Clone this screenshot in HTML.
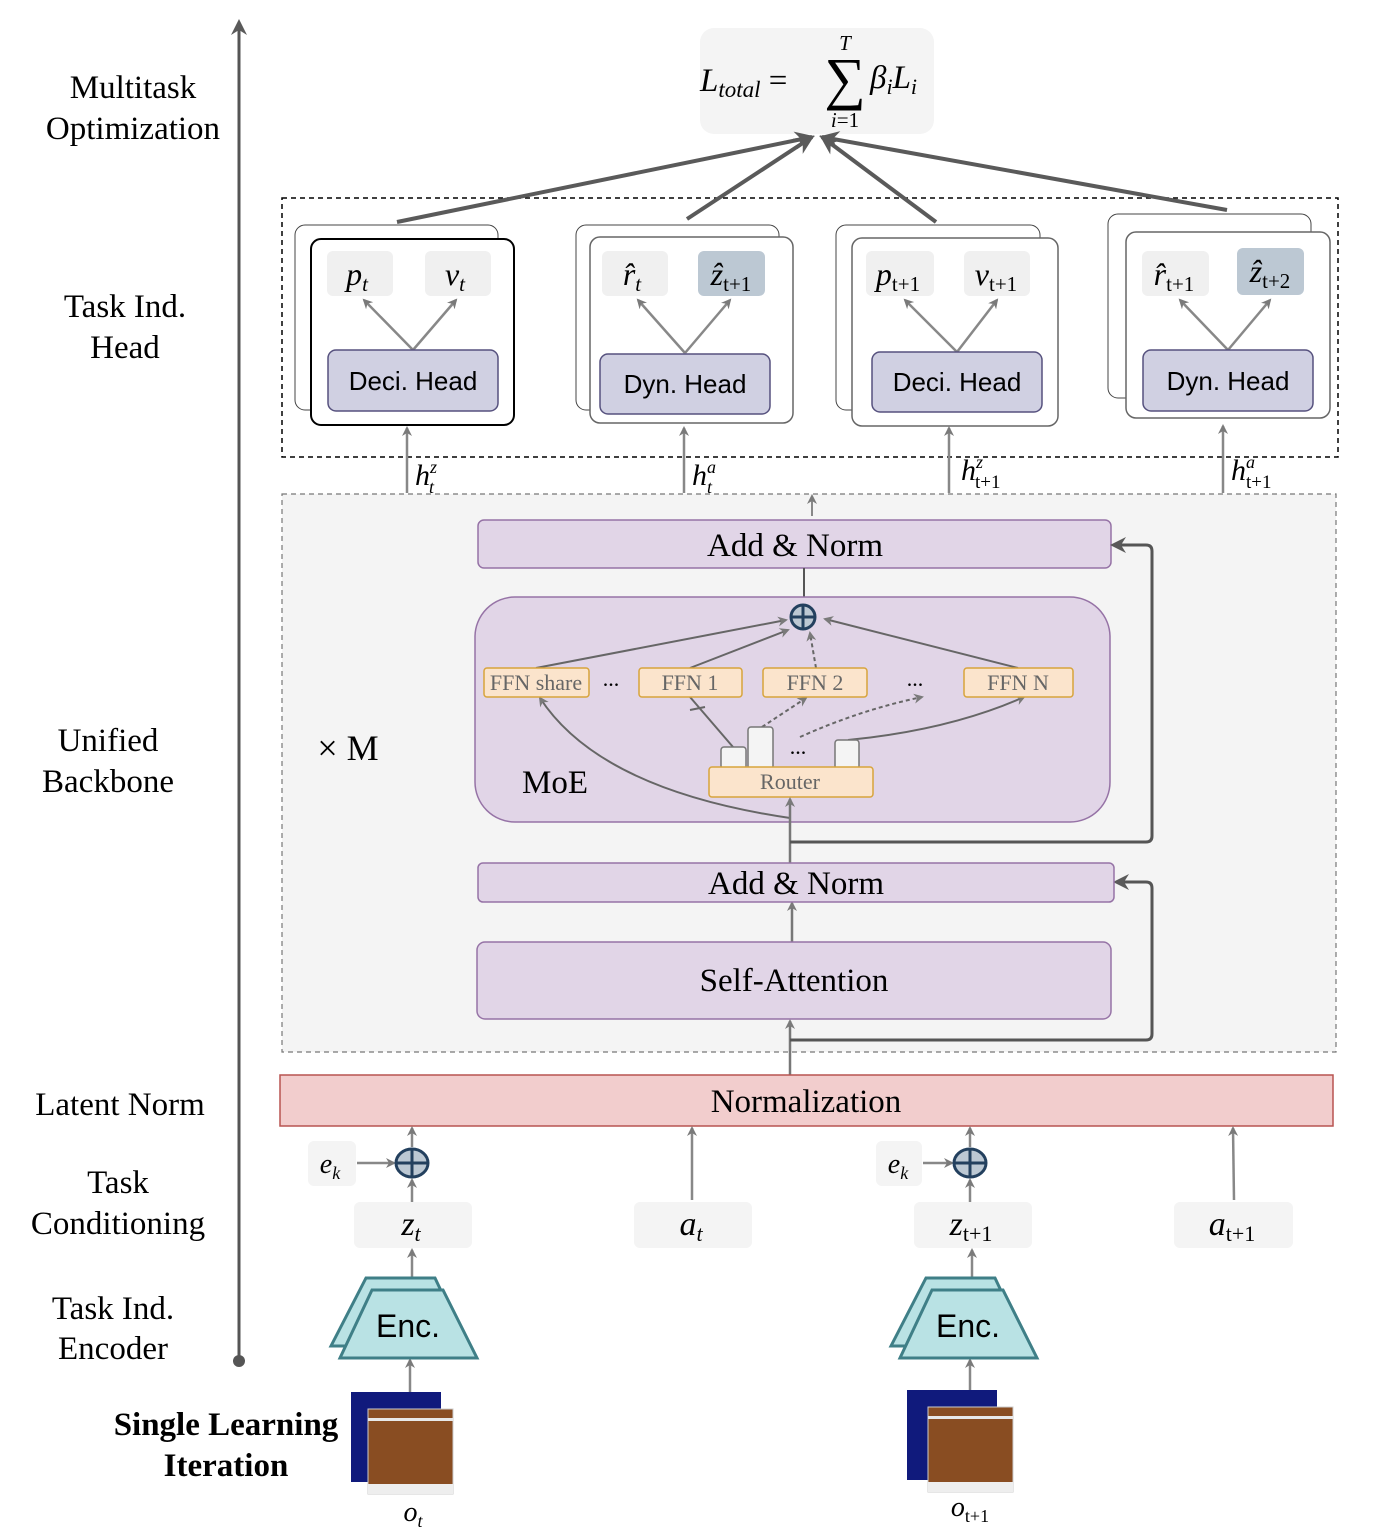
<!DOCTYPE html>
<html><head><meta charset="utf-8"><style>
html,body{margin:0;padding:0;background:#fff}
svg{display:block}
.s{font-family:"Liberation Serif",serif}
.a{font-family:"Liberation Sans",sans-serif}
.m{font-family:"Liberation Serif",serif;font-style:italic}
</style></head><body>
<svg width="1388" height="1536" viewBox="0 0 1388 1536" xmlns="http://www.w3.org/2000/svg">
<defs>
<marker id="ar" markerWidth="10" markerHeight="10" refX="8" refY="5" orient="auto" markerUnits="userSpaceOnUse"><path d="M0,0 L10,5 L0,10 L3,5 z" fill="#7a7a7a"/></marker>
<marker id="ar2" markerWidth="16" markerHeight="16" refX="13" refY="8" orient="auto" markerUnits="userSpaceOnUse"><path d="M0,0 L16,8 L0,16 L5,8 z" fill="#5a5a5a"/></marker>
<marker id="ar3" markerWidth="20" markerHeight="20" refX="17" refY="10" orient="auto" markerUnits="userSpaceOnUse"><path d="M0,1 L20,10 L0,19 L6,10 z" fill="#5a5a5a"/></marker>
</defs>

<line x1="239" y1="1360" x2="239" y2="22" stroke="#555" stroke-width="3" marker-end="url(#ar2)"/>
<circle cx="239" cy="1361" r="6" fill="#555"/>

<g class="s" font-size="33" text-anchor="middle" fill="#000">
<text x="133" y="98">Multitask</text><text x="133" y="139">Optimization</text>
<text x="125" y="317">Task Ind.</text><text x="125" y="358">Head</text>
<text x="108" y="751">Unified</text><text x="108" y="792">Backbone</text>
<text x="120" y="1115">Latent Norm</text>
<text x="118" y="1193">Task</text><text x="118" y="1234">Conditioning</text>
<text x="113" y="1319">Task Ind.</text><text x="113" y="1359">Encoder</text>
<text x="226" y="1435" font-weight="bold">Single Learning</text><text x="226" y="1476" font-weight="bold">Iteration</text>
</g>

<rect x="700" y="28" width="234" height="106" rx="14" fill="#f4f4f4"/>
<text class="m" x="700" y="91" font-size="33">L<tspan font-size="23" dy="6">total</tspan><tspan dy="-6" font-style="normal"> = </tspan></text>
<text class="s" x="845" y="98" font-size="58" text-anchor="middle">∑</text>
<text class="m" x="845" y="50" font-size="21" text-anchor="middle">T</text>
<text class="m" x="845" y="127" font-size="21" text-anchor="middle">i<tspan font-style="normal">=1</tspan></text>
<text class="m" x="870" y="88" font-size="33">β<tspan font-size="22" dy="6">i</tspan><tspan dy="-6">L</tspan><tspan font-size="22" dy="6">i</tspan></text>

<rect x="282" y="198" width="1056" height="259" fill="none" stroke="#000" stroke-width="1.5" stroke-dasharray="5,4"/>
<g stroke="#5a5a5a" stroke-width="4" fill="none">
<line x1="397" y1="222" x2="812" y2="137" marker-end="url(#ar3)"/>
<line x1="687" y1="219" x2="812" y2="137" marker-end="url(#ar3)"/>
<line x1="936" y1="222" x2="822" y2="137" marker-end="url(#ar3)"/>
<line x1="1227" y1="210" x2="822" y2="137" marker-end="url(#ar3)"/>
</g>

<rect x="295" y="225" width="203" height="185" rx="10" fill="#fff" stroke="#444" stroke-width="1"/>
<rect x="311" y="239" width="203" height="186" rx="10" fill="#fff" stroke="#000" stroke-width="2"/>
<rect x="327" y="251" width="66" height="45" rx="6" fill="#f0f0f0"/>
<rect x="425" y="251" width="66" height="45" rx="6" fill="#f0f0f0"/>
<text class="m" x="357" y="285" font-size="32" text-anchor="middle">p<tspan font-size="21" dy="6">t</tspan></text>
<text class="m" x="455" y="285" font-size="32" text-anchor="middle">v<tspan font-size="21" dy="6">t</tspan></text>
<g stroke="#888" stroke-width="2.5"><line x1="413" y1="350" x2="364" y2="300" marker-end="url(#ar)"/><line x1="413" y1="350" x2="456" y2="300" marker-end="url(#ar)"/></g>
<rect x="328" y="350" width="170" height="61" rx="8" fill="#d0d0e2" stroke="#56517e" stroke-width="1.5"/>
<text class="a" x="413" y="390" font-size="26" text-anchor="middle">Deci. Head</text>

<rect x="576" y="225" width="203" height="185" rx="10" fill="#fff" stroke="#444"/>
<rect x="590" y="237" width="203" height="186" rx="10" fill="#fff" stroke="#666" stroke-width="1.5"/>
<rect x="602" y="251" width="66" height="45" rx="6" fill="#f0f0f0"/>
<rect x="698" y="251" width="67" height="45" rx="6" fill="#bcc8d3"/>
<text class="m" x="632" y="285" font-size="32" text-anchor="middle">r̂<tspan font-size="21" dy="6">t</tspan></text>
<text class="m" x="731" y="285" font-size="32" text-anchor="middle">ẑ<tspan font-size="21" dy="6" font-style="normal">t+1</tspan></text>
<g stroke="#888" stroke-width="2.5"><line x1="685" y1="353" x2="638" y2="300" marker-end="url(#ar)"/><line x1="685" y1="353" x2="730" y2="300" marker-end="url(#ar)"/></g>
<rect x="600" y="354" width="170" height="60" rx="8" fill="#d0d0e2" stroke="#56517e" stroke-width="1.5"/>
<text class="a" x="685" y="393" font-size="26" text-anchor="middle">Dyn. Head</text>

<rect x="836" y="225" width="204" height="185" rx="10" fill="#fff" stroke="#444"/>
<rect x="852" y="238" width="206" height="188" rx="10" fill="#fff" stroke="#666" stroke-width="1.5"/>
<rect x="866" y="251" width="68" height="45" rx="6" fill="#f0f0f0"/>
<rect x="964" y="251" width="66" height="45" rx="6" fill="#f0f0f0"/>
<text class="m" x="898" y="285" font-size="32" text-anchor="middle">p<tspan font-size="21" dy="6" font-style="normal">t+1</tspan></text>
<text class="m" x="996" y="285" font-size="32" text-anchor="middle">v<tspan font-size="21" dy="6" font-style="normal">t+1</tspan></text>
<g stroke="#888" stroke-width="2.5"><line x1="957" y1="352" x2="905" y2="300" marker-end="url(#ar)"/><line x1="957" y1="352" x2="997" y2="300" marker-end="url(#ar)"/></g>
<rect x="872" y="352" width="170" height="60" rx="8" fill="#d0d0e2" stroke="#56517e" stroke-width="1.5"/>
<text class="a" x="957" y="391" font-size="26" text-anchor="middle">Deci. Head</text>

<rect x="1108" y="214" width="203" height="184" rx="10" fill="#fff" stroke="#444"/>
<rect x="1126" y="232" width="204" height="186" rx="10" fill="#fff" stroke="#666" stroke-width="1.5"/>
<rect x="1142" y="251" width="67" height="45" rx="6" fill="#f0f0f0"/>
<rect x="1237" y="248" width="67" height="47" rx="6" fill="#bcc8d3"/>
<text class="m" x="1174" y="285" font-size="32" text-anchor="middle">r̂<tspan font-size="21" dy="6" font-style="normal">t+1</tspan></text>
<text class="m" x="1270" y="282" font-size="32" text-anchor="middle">ẑ<tspan font-size="21" dy="6" font-style="normal">t+2</tspan></text>
<g stroke="#888" stroke-width="2.5"><line x1="1228" y1="350" x2="1180" y2="300" marker-end="url(#ar)"/><line x1="1228" y1="350" x2="1270" y2="300" marker-end="url(#ar)"/></g>
<rect x="1143" y="350" width="170" height="61" rx="8" fill="#d0d0e2" stroke="#56517e" stroke-width="1.5"/>
<text class="a" x="1228" y="390" font-size="26" text-anchor="middle">Dyn. Head</text>

<rect x="282" y="494" width="1054" height="558" fill="#f4f4f4" stroke="#777" stroke-width="1.2" stroke-dasharray="5,4"/>
<g stroke="#888" stroke-width="2.5">
<line x1="407" y1="493" x2="407" y2="428" marker-end="url(#ar)"/>
<line x1="684" y1="493" x2="684" y2="428" marker-end="url(#ar)"/>
<line x1="949" y1="493" x2="949" y2="428" marker-end="url(#ar)"/>
<line x1="1223" y1="493" x2="1223" y2="426" marker-end="url(#ar)"/>
<line x1="812" y1="516" x2="812" y2="496" marker-end="url(#ar)" stroke-width="2"/>
</g>
<g class="m" font-size="30">
<text x="415" y="485">h<tspan font-size="18" dy="-12">z</tspan><tspan font-size="18" dx="-8" dy="20">t</tspan></text>
<text x="692" y="485">h<tspan font-size="18" dy="-12">a</tspan><tspan font-size="18" dx="-9" dy="20">t</tspan></text>
<text x="961" y="480">h<tspan font-size="18" dy="-12">z</tspan><tspan font-size="19" dx="-8" dy="20" font-style="normal">t+1</tspan></text>
<text x="1231" y="480">h<tspan font-size="18" dy="-12">a</tspan><tspan font-size="19" dx="-9" dy="20" font-style="normal">t+1</tspan></text>
</g>

<rect x="478" y="520" width="633" height="48" rx="6" fill="#e1d5e7" stroke="#9673a6" stroke-width="1.5"/>
<text class="s" x="795" y="556" font-size="33" text-anchor="middle">Add &amp; Norm</text>
<line x1="804" y1="568" x2="804" y2="604" stroke="#555" stroke-width="2"/>

<rect x="475" y="597" width="635" height="225" rx="40" fill="#e1d5e7" stroke="#9673a6" stroke-width="1.5"/>
<text class="s" x="348" y="760" font-size="36" text-anchor="middle">× M</text>
<text class="s" x="555" y="793" font-size="33" text-anchor="middle">MoE</text>

<g stroke="#666" stroke-width="2" fill="none">
<line x1="536" y1="668" x2="786" y2="620" marker-end="url(#ar)"/>
<line x1="690" y1="668" x2="788" y2="630" marker-end="url(#ar)"/>
<line x1="816" y1="668" x2="810" y2="633" marker-end="url(#ar)" stroke-dasharray="4,3"/>
<line x1="1018" y1="668" x2="825" y2="619" marker-end="url(#ar)"/>
<line x1="733" y1="747" x2="690" y2="697"/>
<line x1="690" y1="710" x2="705" y2="707"/>
<line x1="762" y1="727" x2="806" y2="698" marker-end="url(#ar)" stroke-dasharray="4,3"/>
<path d="M800,737 Q860,710 922,697" marker-end="url(#ar)" stroke-dasharray="4,3"/>
<path d="M848,740 Q950,730 1024,697" marker-end="url(#ar)"/>
<path d="M790,818 Q600,790 540,698" marker-end="url(#ar)"/>
</g>
<circle cx="803" cy="617" r="12" fill="#bcc8d3" stroke="#23405e" stroke-width="3"/>
<line x1="791" y1="617" x2="815" y2="617" stroke="#23405e" stroke-width="3"/><line x1="803" y1="605" x2="803" y2="629" stroke="#23405e" stroke-width="3"/>

<g fill="#fbe4cc" stroke="#d8a43b" stroke-width="1.5">
<rect x="484" y="668" width="105" height="29" rx="3"/>
<rect x="639" y="668" width="103" height="29" rx="3"/>
<rect x="763" y="668" width="104" height="29" rx="3"/>
<rect x="964" y="668" width="109" height="29" rx="3"/>
</g>
<g class="s" font-size="22" fill="#666" text-anchor="middle">
<text x="536" y="690">FFN share</text><text x="690" y="690">FFN 1</text><text x="815" y="690">FFN 2</text><text x="1018" y="690">FFN N</text>
<text x="611" y="686" fill="#000">...</text><text x="915" y="686" fill="#000">...</text><text x="798" y="754" fill="#000">...</text>
</g>
<g fill="#f4f4f4" stroke="#777" stroke-width="1.5">
<rect x="721" y="747" width="25" height="22" rx="3"/>
<rect x="748" y="727" width="25" height="42" rx="3"/>
<rect x="835" y="740" width="24" height="29" rx="3"/>
</g>
<rect x="709" y="767" width="164" height="30" rx="3" fill="#fbe4cc" stroke="#d8a43b" stroke-width="1.5"/>
<text class="s" x="790" y="789" font-size="22" fill="#666" text-anchor="middle">Router</text>

<g stroke="#777" stroke-width="2.5" fill="none">
<line x1="790" y1="863" x2="790" y2="799" marker-end="url(#ar)"/>
<line x1="792" y1="942" x2="792" y2="903" marker-end="url(#ar)"/>
<line x1="790" y1="1075" x2="790" y2="1021" marker-end="url(#ar)"/>
</g>
<g stroke="#555" stroke-width="3" fill="none">
<path d="M790,842 H1146 Q1152,842 1152,836 V551 Q1152,545 1146,545 H1113" marker-end="url(#ar2)"/>
<path d="M790,1040 H1146 Q1152,1040 1152,1034 V888 Q1152,882 1146,882 H1116" marker-end="url(#ar2)"/>
</g>

<rect x="478" y="863" width="636" height="39" rx="5" fill="#e1d5e7" stroke="#9673a6" stroke-width="1.5"/>
<text class="s" x="796" y="894" font-size="33" text-anchor="middle">Add &amp; Norm</text>
<rect x="477" y="942" width="634" height="77" rx="8" fill="#e1d5e7" stroke="#9673a6" stroke-width="1.5"/>
<text class="s" x="794" y="991" font-size="33" text-anchor="middle">Self-Attention</text>

<rect x="280" y="1075" width="1053" height="51" fill="#f2cdcd" stroke="#b85450" stroke-width="1.5"/>
<text class="s" x="806" y="1112" font-size="33" text-anchor="middle">Normalization</text>

<g fill="#f4f4f4">
<rect x="308" y="1141" width="48" height="45" rx="6"/><rect x="876" y="1141" width="46" height="45" rx="6"/>
<rect x="354" y="1202" width="118" height="46" rx="6"/><rect x="634" y="1202" width="118" height="46" rx="6"/>
<rect x="914" y="1202" width="118" height="46" rx="6"/><rect x="1174" y="1202" width="119" height="46" rx="6"/>
</g>
<g class="m" font-size="34" text-anchor="middle">
<text x="330" y="1173" font-size="28">e<tspan font-size="18" dy="6">k</tspan></text>
<text x="898" y="1173" font-size="28">e<tspan font-size="18" dy="6">k</tspan></text>
<text x="411" y="1235">z<tspan font-size="22" dy="6">t</tspan></text>
<text x="691" y="1235">a<tspan font-size="22" dy="6">t</tspan></text>
<text x="971" y="1235">z<tspan font-size="22" dy="6" font-style="normal">t+1</tspan></text>
<text x="1232" y="1235">a<tspan font-size="22" dy="6" font-style="normal">t+1</tspan></text>
<text x="413" y="1521" font-size="28">o<tspan font-size="18" dy="6">t</tspan></text>
<text x="970" y="1516" font-size="28">o<tspan font-size="18" dy="6" font-style="normal">t+1</tspan></text>
</g>
<g stroke="#888" stroke-width="2.5">
<line x1="412" y1="1147" x2="412" y2="1128" marker-end="url(#ar)"/>
<line x1="412" y1="1202" x2="412" y2="1180" marker-end="url(#ar)"/>
<line x1="357" y1="1163" x2="394" y2="1163" marker-end="url(#ar)"/>
<line x1="970" y1="1147" x2="970" y2="1128" marker-end="url(#ar)"/>
<line x1="970" y1="1202" x2="970" y2="1180" marker-end="url(#ar)"/>
<line x1="923" y1="1163" x2="952" y2="1163" marker-end="url(#ar)"/>
<line x1="692" y1="1200" x2="692" y2="1128" marker-end="url(#ar)"/>
<line x1="1234" y1="1200" x2="1233" y2="1128" marker-end="url(#ar)"/>
<line x1="412" y1="1278" x2="412" y2="1250" marker-end="url(#ar)"/>
<line x1="972" y1="1278" x2="972" y2="1250" marker-end="url(#ar)"/>
<line x1="410" y1="1392" x2="410" y2="1360" marker-end="url(#ar)"/>
<line x1="970" y1="1390" x2="970" y2="1360" marker-end="url(#ar)"/>
</g>
<g stroke="#23405e" stroke-width="3" fill="#bcc8d3">
<ellipse cx="412" cy="1163" rx="16" ry="14"/><ellipse cx="970" cy="1163" rx="16" ry="14"/>
</g>
<g stroke="#23405e" stroke-width="3">
<line x1="396" y1="1163" x2="428" y2="1163"/><line x1="412" y1="1149" x2="412" y2="1177"/>
<line x1="954" y1="1163" x2="986" y2="1163"/><line x1="970" y1="1149" x2="970" y2="1177"/>
</g>

<g fill="#b9e2e4" stroke="#3f7f87" stroke-width="3">
<polygon points="366,1278 435,1278 467,1346 331,1346"/>
<polygon points="372,1290 443,1290 477,1358 340,1358"/>
<polygon points="926,1278 995,1278 1027,1346 891,1346"/>
<polygon points="932,1290 1003,1290 1037,1358 900,1358"/>
</g>
<text class="a" x="408" y="1337" font-size="32" text-anchor="middle">Enc.</text>
<text class="a" x="968" y="1337" font-size="32" text-anchor="middle">Enc.</text>

<rect x="351" y="1392" width="90" height="90" fill="#101a7c"/>
<rect x="368" y="1409" width="85" height="85" fill="#894d22" stroke="#ccc"/>
<rect x="368" y="1418" width="85" height="3" fill="#e8e8e8"/><rect x="368" y="1484" width="85" height="10" fill="#eee"/>
<rect x="907" y="1390" width="90" height="90" fill="#101a7c"/>
<rect x="928" y="1407" width="85" height="85" fill="#894d22" stroke="#ccc"/>
<rect x="928" y="1416" width="85" height="3" fill="#e8e8e8"/><rect x="928" y="1482" width="85" height="10" fill="#eee"/>
</svg>
</body></html>
